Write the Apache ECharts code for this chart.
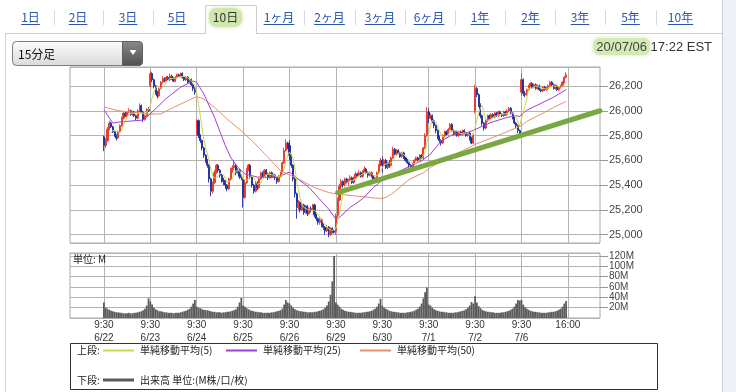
<!DOCTYPE html>
<html><head><meta charset="utf-8">
<script src="https://cdn.jsdelivr.net/npm/echarts@6/dist/echarts.min.js"></script>
<style>html,body{margin:0;padding:0;background:#fff}#c{width:736px;height:392px}</style>
</head><body><div id="c"></div><script>
// ---------------- DATA ----------------
const dates = ['6/22','6/23','6/24','6/25','6/26','6/29','6/30','7/1','7/2','7/6'];
const openLabel = '9:30';
const closeLabel = '16:00';

// 15-minute candles, each [open, close, low, high]
const c0622 = [[25790,25720,25675,25800],[25720,25760,25700,25780],[25760,25850,25750,25870],[25850,25900,25840,25920],[25900,25870,25860,25910],[25870,25830,25820,25880],[25830,25800,25790,25840],[25800,25780,25760,25810],[25780,25830,25770,25840],[25830,25880,25820,25890],[25880,25940,25870,25950],[25940,25980,25930,25990],[25980,25960,25950,25990],[25960,25990,25950,26000],[25990,26000,25980,26020],[26000,25970,25960,26010],[25970,25990,25960,26000],[25990,25960,25950,26000],[25960,25940,25920,25970],[25940,26000,25930,26010],[26000,26040,25990,26060],[26040,25990,25980,26050],[25990,25930,25910,26000],[25930,25960,25920,25970],[25960,26010,25950,26020],[26010,26000,25990,26030]];
const c0623 = [[26200,26300,26190,26320],[26300,26250,26230,26310],[26250,26200,26180,26260],[26200,26150,26130,26210],[26150,26120,26100,26160],[26120,26180,26110,26190],[26180,26230,26170,26240],[26230,26260,26220,26280],[26260,26240,26230,26270],[26240,26270,26230,26280],[26270,26250,26240,26280],[26250,26280,26240,26300],[26280,26260,26250,26290],[26260,26240,26230,26270],[26240,26270,26230,26280],[26270,26290,26260,26300],[26290,26280,26270,26300],[26280,26300,26270,26310],[26300,26270,26260,26310],[26270,26250,26240,26280],[26250,26270,26240,26280],[26270,26230,26220,26280],[26230,26250,26220,26260],[26250,26210,26200,26260],[26210,26180,26160,26220],[26180,26150,26130,26190]];
const c0624 = [[25850,25920,25800,25930],[25920,25800,25780,25930],[25800,25760,25740,25810],[25760,25700,25680,25770],[25700,25640,25620,25710],[25640,25600,25580,25650],[25600,25560,25540,25610],[25560,25450,25420,25570],[25450,25350,25310,25460],[25350,25420,25330,25430],[25420,25500,25410,25520],[25500,25560,25490,25570],[25560,25520,25500,25570],[25520,25480,25460,25530],[25480,25440,25420,25490],[25440,25430,25400,25460],[25430,25400,25370,25440],[25400,25370,25350,25410],[25370,25450,25360,25460],[25450,25520,25440,25540],[25520,25540,25500,25560],[25540,25560,25520,25600],[25560,25500,25480,25570],[25500,25520,25490,25540],[25520,25470,25450,25530],[25470,25460,25440,25490]];
const c0625 = [[25450,25300,25220,25460],[25300,25420,25290,25440],[25420,25520,25410,25540],[25520,25560,25510,25570],[25560,25470,25450,25570],[25470,25400,25380,25480],[25400,25350,25330,25410],[25350,25420,25340,25430],[25420,25380,25360,25430],[25380,25450,25370,25460],[25450,25500,25440,25510],[25500,25470,25460,25510],[25470,25520,25460,25530],[25520,25490,25480,25530],[25490,25460,25440,25500],[25460,25500,25450,25510],[25500,25470,25460,25510],[25470,25480,25460,25490],[25480,25460,25440,25490],[25460,25430,25410,25470],[25430,25470,25420,25480],[25470,25500,25460,25510],[25500,25580,25490,25590],[25580,25680,25570,25700],[25680,25740,25670,25770],[25740,25700,25690,25750]];
const c0626 = [[25720,25640,25600,25760],[25640,25560,25540,25650],[25560,25450,25430,25570],[25450,25330,25300,25460],[25330,25220,25130,25340],[25220,25260,25200,25280],[25260,25200,25180,25270],[25200,25240,25190,25260],[25240,25180,25160,25250],[25180,25230,25170,25240],[25230,25170,25150,25240],[25170,25210,25160,25220],[25210,25200,25180,25230],[25200,25240,25190,25250],[25240,25160,25140,25250],[25160,25130,25110,25170],[25130,25100,25080,25140],[25100,25120,25080,25140],[25120,25080,25060,25130],[25080,25060,25040,25090],[25060,25030,25000,25070],[25030,25060,25020,25080],[25060,25000,24980,25070],[25000,25050,24990,25060],[25050,25030,25010,25060],[25030,25020,25010,25040]];
const c0629 = [[25030,25150,25000,25170],[25150,25280,25140,25300],[25280,25390,25270,25410],[25390,25430,25370,25450],[25430,25400,25380,25440],[25400,25450,25390,25460],[25450,25420,25410,25460],[25420,25440,25400,25450],[25440,25460,25430,25480],[25460,25420,25410,25470],[25420,25460,25410,25470],[25460,25490,25450,25510],[25490,25480,25470,25500],[25480,25500,25470,25520],[25500,25470,25460,25510],[25470,25510,25460,25520],[25510,25530,25500,25550],[25530,25500,25490,25540],[25500,25480,25460,25510],[25480,25500,25470,25510],[25500,25470,25460,25510],[25470,25440,25420,25480],[25440,25460,25430,25470],[25460,25500,25450,25510],[25500,25560,25490,25570],[25560,25600,25550,25620]];
const c0630 = [[25600,25560,25500,25630],[25560,25600,25550,25610],[25600,25540,25530,25610],[25540,25580,25530,25590],[25580,25560,25540,25600],[25560,25620,25550,25630],[25620,25690,25610,25710],[25690,25650,25640,25700],[25650,25680,25640,25690],[25680,25660,25650,25690],[25660,25630,25620,25670],[25630,25660,25620,25670],[25660,25620,25610,25670],[25620,25600,25590,25630],[25600,25580,25570,25610],[25580,25560,25540,25590],[25560,25550,25540,25570],[25550,25570,25540,25580],[25570,25600,25560,25610],[25600,25620,25590,25630],[25620,25600,25590,25630],[25600,25640,25590,25650],[25640,25620,25610,25650],[25620,25700,25610,25710],[25700,25800,25690,25820],[25800,25990,25790,26030]];
const c0701 = [[25990,25940,25900,26020],[25940,25960,25930,25980],[25960,25920,25900,25970],[25920,25880,25860,25930],[25880,25840,25820,25890],[25840,25790,25770,25850],[25790,25760,25740,25800],[25760,25740,25720,25770],[25740,25800,25730,25810],[25800,25830,25790,25840],[25830,25810,25800,25840],[25810,25850,25800,25860],[25850,25890,25840,25900],[25890,25840,25830,25900],[25840,25810,25800,25850],[25810,25830,25800,25840],[25830,25800,25790,25840],[25800,25830,25790,25840],[25830,25810,25800,25840],[25810,25840,25800,25850],[25840,25820,25810,25850],[25820,25800,25790,25830],[25800,25820,25790,25830],[25820,25780,25760,25830],[25780,25740,25730,25790],[25740,25800,25730,25810]];
const c0702 = [[26000,26180,25980,26210],[26180,26130,26110,26190],[26130,26050,26030,26140],[26050,25960,25940,26060],[25960,25900,25880,25970],[25900,25860,25840,25910],[25860,25920,25850,25930],[25920,25960,25910,25970],[25960,25940,25930,25970],[25940,25970,25930,25980],[25970,25950,25940,25980],[25950,25980,25940,25990],[25980,25960,25950,25990],[25960,25990,25950,26000],[25990,25970,25960,26000],[25970,25960,25950,25980],[25960,25990,25950,26000],[25990,25970,25960,26000],[25970,26000,25960,26010],[26000,26020,25990,26030],[26020,25980,25970,26030],[25980,25940,25930,25990],[25940,25900,25890,25950],[25900,25880,25860,25910],[25880,25840,25820,25890],[25840,25820,25800,25850]];
const c0706 = [[26150,26250,26120,26300],[26250,26140,26120,26260],[26140,26130,26110,26160],[26130,26170,26120,26180],[26170,26200,26160,26210],[26200,26220,26190,26230],[26220,26190,26180,26230],[26190,26210,26180,26220],[26210,26180,26170,26220],[26180,26200,26170,26210],[26200,26170,26160,26210],[26170,26160,26150,26180],[26160,26190,26150,26200],[26190,26170,26160,26200],[26170,26180,26160,26190],[26180,26200,26170,26210],[26200,26230,26190,26240],[26230,26210,26200,26240],[26210,26180,26170,26220],[26180,26200,26170,26210],[26200,26170,26160,26210],[26170,26190,26160,26200],[26190,26200,26180,26210],[26200,26230,26190,26240],[26230,26270,26220,26280],[26270,26290,26260,26310]];

// volume (millions), 15-minute bars
const v0622 = [30,20,18,16,14,13,12,11,11,10,10,9,9,9,10,9,9,10,10,11,12,13,15,18,24,38];
const v0623 = [32,26,20,17,15,13,13,12,11,11,10,10,10,9,10,10,10,11,12,13,14,16,18,22,28,35];
const v0624 = [22,20,19,17,16,15,15,14,13,12,12,11,11,11,10,11,11,12,12,13,14,15,17,22,30,39];
const v0625 = [24,22,19,17,15,14,13,12,12,11,11,10,10,10,10,10,11,11,12,13,14,15,18,26,35,30];
const v0626 = [28,24,20,17,15,14,13,13,12,12,11,11,11,11,12,12,13,14,15,17,20,24,32,45,71,120];
const v0629 = [30,26,22,18,16,14,13,12,12,11,11,10,10,10,10,11,11,12,12,13,14,16,18,22,28,37];
const v0630 = [24,20,18,16,14,13,12,12,11,11,10,10,10,10,11,11,12,13,14,16,18,22,28,38,50,59];
const v0701 = [26,24,20,17,15,14,13,12,12,11,11,10,10,10,10,11,11,12,13,14,15,17,20,24,31,28];
const v0702 = [42,30,23,19,16,14,13,12,12,11,11,10,10,10,10,11,11,12,13,14,16,18,22,28,35,34];
const v0706 = [35,26,21,18,16,14,13,12,12,11,11,10,10,10,10,11,11,12,12,13,14,16,18,22,28,33];

// moving averages: [bar index, value]
const ma25Pts = [[0,26010],[5,25900],[9,25910],[18,25920],[22,25925],[26,25975],[35,26100],[43,26190],[50,26240],[52,26230],[56,26135],[62,25946],[68,25720],[71,25625],[75,25545],[79,25490],[86,25465],[94,25460],[99,25475],[104,25505],[109,25448],[115,25380],[120,25300],[126,25206],[130,25125],[132,25140],[138,25220],[145,25290],[151,25380],[157,25450],[164,25500],[171,25550],[178,25595],[183,25650],[189,25757],[196,25811],[204,25825],[209,25855],[217,25906],[226,25946],[231,25960],[233,25955],[237,26005],[245,26060],[252,26110],[259,26170]];
const ma50Pts = [[0,26032],[8,26000],[17,25987],[26,25973],[32,25975],[39,26027],[47,26081],[52,26115],[56,26095],[62,26027],[69,25933],[77,25838],[84,25744],[92,25623],[99,25515],[105,25475],[111,25434],[118,25380],[126,25340],[131,25327],[141,25313],[150,25299],[155,25292],[158,25300],[162,25335],[166,25385],[171,25445],[179,25500],[183,25542],[192,25620],[201,25677],[209,25735],[218,25784],[227,25838],[234,25879],[237,25915],[245,25973],[252,26027],[259,26075]];
// user-drawn trend line: [bar index, value]
const trendPts = [[131,25340],[278,26000]];

const tabLabels = ['1日','2日','3日','5日','10日','1ヶ月','2ヶ月','3ヶ月','6ヶ月','1年','2年','3年','5年','10年'];
const selectedTab = '10日';
const legendTop = ['単純移動平均(5)','単純移動平均(25)','単純移動平均(50)'];
const legendBottom = '出来高 単位:(M株/口/枚)';
const timestampDate = '20/07/06';
const timestampRest = ' 17:22 EST';
const barType = '15分足';

// ---------------- BUILD ----------------
const PER_DAY = 26, PAD_L = 19, PAD_R = 19;
const candles = [].concat(c0622,c0623,c0624,c0625,c0626,c0629,c0630,c0701,c0702,c0706);
const vols = [].concat(v0622,v0623,v0624,v0625,v0626,v0629,v0630,v0701,v0702,v0706);
const nBars = candles.length;
const nCat = PAD_L + nBars + PAD_R;
const cats = [];
const labelMap = {};
for (let k = 0; k < nCat; k++) {
  const i = k - PAD_L;
  if (i >= 0 && i < nBars) {
    const d = Math.floor(i / PER_DAY), j = i % PER_DAY;
    const mins = 9*60+30 + j*15;
    cats.push(dates[d] + ' ' + Math.floor(mins/60) + ':' + String(mins%60).padStart(2,'0'));
    if (j === 0) labelMap[k] = openLabel + '\n' + dates[d];
  } else if (i === nBars) {
    cats.push(dates[dates.length-1] + ' ' + closeLabel);
    labelMap[k] = closeLabel;
  } else cats.push('pad' + k);
}
const isMark = (idx) => labelMap[idx] !== undefined;
const candleData = [];
const volData = [];
for (let k = 0; k < nCat; k++) {
  const i = k - PAD_L;
  if (i >= 0 && i < nBars) { candleData.push(candles[i]); volData.push(vols[i]); }
  else { candleData.push(['-','-','-','-']); volData.push('-'); }
}
const closes = candles.map(c => c[1]);
const ma5 = [];
for (let i = 4; i < nBars; i++) {
  let s = 0; for (let t = i-4; t <= i; t++) s += closes[t];
  ma5.push([PAD_L + i, Math.round(s/5)]);
}
const shift = pts => pts.map(p => [PAD_L + p[0], p[1]]);

const NUMF = '"Liberation Sans", Arial, sans-serif';
const JPF = '"Noto Sans CJK JP", sans-serif';
const gridCol = '#b3b3b3';

// ---------------- GRAPHICS (page chrome) ----------------
const g = [];
const meas = document.createElement('canvas').getContext('2d');
g.push({type:'rect', shape:{x:723,y:0,width:13,height:392}, style:{fill:'#eef1f6'}, z:0});
g.push({type:'line', shape:{x1:722.5,y1:0,x2:722.5,y2:392}, style:{stroke:'#c9d0da',lineWidth:1}});
g.push({type:'line', shape:{x1:5.5,y1:33,x2:5.5,y2:392}, style:{stroke:'#d0d4da',lineWidth:1}});
g.push({type:'line', shape:{x1:5,y1:33.5,x2:205,y2:33.5}, style:{stroke:'#c9ced6',lineWidth:1}});
g.push({type:'line', shape:{x1:256,y1:33.5,x2:722,y2:33.5}, style:{stroke:'#c9ced6',lineWidth:1}});
g.push({type:'polyline', shape:{points:[[205.5,34],[205.5,5.5],[256.5,5.5],[256.5,34]]}, style:{stroke:'#c9ced6',fill:null,lineWidth:1}});
const tabX = [30.5,78,128,177,225.5,279,329.5,380,429,480,530.5,580,630.5,680.5];
tabLabels.forEach((t, i) => {
  const font = '12px ' + JPF;
  meas.font = font;
  const w = meas.measureText(t).width;
  const sel = t === selectedTab;
  if (sel) {
    g.push({type:'rect', shape:{x:tabX[i]-w/2-4,y:8,width:w+8,height:19,r:8}, style:{fill:'#cfe7ad',shadowBlur:4,shadowColor:'#cfe7ad'}});
  }
  g.push({type:'text', x:tabX[i], y:17, style:{text:t, font:font, fill: sel ? '#333' : '#2855b0', align:'center', verticalAlign:'middle'}});
  if (!sel) g.push({type:'line', shape:{x1:tabX[i]-w/2,y1:24.5,x2:tabX[i]+w/2,y2:24.5}, style:{stroke:'#2855b0',lineWidth:1}});
  if (i < tabLabels.length - 1 && !sel && tabLabels[i+1] !== selectedTab) {
    const sx = Math.round((tabX[i]+tabX[i+1])/2) + 0.5;
    g.push({type:'line', shape:{x1:sx,y1:10,x2:sx,y2:25}, style:{stroke:'#d5d8de',lineWidth:1}});
  }
});
// dropdown
g.push({type:'rect', shape:{x:12.5,y:41.5,width:130,height:24,r:4},
  style:{fill:{type:'linear',x:0,y:0,x2:0,y2:1,colorStops:[{offset:0,color:'#fdfdfd'},{offset:1,color:'#d9d9d9'}]}, stroke:'#7d7d7d', lineWidth:1}});
g.push({type:'rect', shape:{x:122.5,y:41.5,width:20,height:24,r:[0,4,4,0]},
  style:{fill:{type:'linear',x:0,y:0,x2:0,y2:1,colorStops:[{offset:0,color:'#8a8a8a'},{offset:1,color:'#505050'}]}, stroke:'#606060', lineWidth:1}});
g.push({type:'polygon', shape:{points:[[129.5,50],[136.5,50],[133,55]]}, style:{fill:'#fff'}});
g.push({type:'text', x:18, y:54, style:{text:barType, font:'12px ' + JPF, fill:'#111', verticalAlign:'middle'}});
// timestamp
const tsFont = '13px ' + NUMF;
meas.font = tsFont;
const wRest = meas.measureText(timestampRest).width;
const wDate = meas.measureText(timestampDate).width;
const tsRight = 712;
g.push({type:'rect', shape:{x:tsRight-wRest-wDate-3,y:38,width:wDate+6,height:17,r:6}, style:{fill:'#d3eab5',shadowBlur:4,shadowColor:'#d3eab5'}});
g.push({type:'text', x:tsRight-wRest, y:47, style:{text:timestampDate, font:tsFont, fill:'#444', align:'right', verticalAlign:'middle'}});
g.push({type:'text', x:tsRight, y:47, style:{text:timestampRest, font:tsFont, fill:'#333', align:'right', verticalAlign:'middle'}});
// volume unit label
g.push({type:'text', x:73, y:259, style:{text:'単位: M', font:'10px ' + JPF, fill:'#222', verticalAlign:'middle'}, z:10});
// legend box
g.push({type:'rect', shape:{x:70.5,y:343.5,width:587,height:46}, style:{fill:'#fff',stroke:'#333',lineWidth:1}});
g.push({type:'text', x:77, y:350, style:{text:'上段:', font:'10px '+JPF, fill:'#222', verticalAlign:'middle'}});
const legCols = ['#c8d850','#a040d8','#e8906a'];
const legX = [103, 226, 360];
legendTop.forEach((t,i) => {
  g.push({type:'line', shape:{x1:legX[i],y1:350.5,x2:legX[i]+31,y2:350.5}, style:{stroke:legCols[i],lineWidth:2}});
  g.push({type:'text', x:legX[i]+37, y:350, style:{text:t, font:'10px '+JPF, fill:'#222', verticalAlign:'middle'}});
});
g.push({type:'text', x:77, y:380, style:{text:'下段:', font:'10px '+JPF, fill:'#222', verticalAlign:'middle'}});
g.push({type:'line', shape:{x1:103,y1:380,x2:134,y2:380}, style:{stroke:'#5a5a5a',lineWidth:3}});
g.push({type:'text', x:140, y:380, style:{text:legendBottom, font:'10px '+JPF, fill:'#222', verticalAlign:'middle'}});

// ---------------- CHART ----------------
const chart = echarts.init(document.getElementById('c'), null, {renderer:'canvas'});
const xCommon = {
  type:'category', data:cats, boundaryGap:false,
  axisLine:{show:false}, axisTick:{show:false},
  splitLine:{show:true, interval:(idx)=>isMark(idx), lineStyle:{color:gridCol,width:1}}
};
chart.setOption({
  animation:false,
  backgroundColor:'#fff',
  graphic:{elements:g},
  grid:[
    {left:70,right:136,top:67,height:176,show:true,borderColor:'#a8a8a8',borderWidth:1,backgroundColor:'#fff',containLabel:false,outerBoundsMode:'none'},
    {left:70,right:136,top:253,height:65,show:true,borderColor:'#a8a8a8',borderWidth:1,backgroundColor:'#fff',containLabel:false,outerBoundsMode:'none'}
  ],
  xAxis:[
    Object.assign({gridIndex:0, axisLabel:{show:false}}, xCommon),
    Object.assign({gridIndex:1, axisLabel:{show:true, interval:(idx)=>isMark(idx), formatter:(v,idx)=>labelMap[idx]||'', margin:1, lineHeight:13, fontSize:10, fontFamily:NUMF, color:'#333'}}, xCommon)
  ],
  yAxis:[
    {type:'value', gridIndex:0, position:'right', min:24933, max:26353, splitNumber:7, minInterval:200, maxInterval:200, scale:true,
     axisLine:{show:false}, axisTick:{show:true,length:8,lineStyle:{color:'#999'}},
     axisLabel:{margin:9, fontSize:11, fontFamily:NUMF, color:'#444', showMinLabel:false, showMaxLabel:false, formatter:v=>Math.round(v).toLocaleString('en-US')},
     splitLine:{show:true, lineStyle:{color:gridCol,width:1}}},
    {type:'value', gridIndex:1, position:'right', min:0, max:126, splitNumber:6, minInterval:20, maxInterval:20,
     axisLine:{show:false}, axisTick:{show:true,length:8,lineStyle:{color:'#999'}},
     axisLabel:{margin:9, fontSize:10, fontFamily:NUMF, color:'#444', lineHeight:10, showMinLabel:false, showMaxLabel:false, formatter:v=>Math.round(v)+'M'},
     splitLine:{show:true, lineStyle:{color:gridCol,width:1}}}
  ],
  series:[
    {type:'candlestick', xAxisIndex:0, yAxisIndex:0, data:candleData, barWidth:1.6, silent:true, z:2,
     itemStyle:{color:'#e8352b', color0:'#1c2d9a', borderColor:'#e8352b', borderColor0:'#1c2d9a', borderWidth:0.9}},
    {type:'line', xAxisIndex:0, yAxisIndex:0, data:shift(ma50Pts), symbol:'none', silent:true, z:3, lineStyle:{color:'#e8906a',width:1}},
    {type:'line', xAxisIndex:0, yAxisIndex:0, data:shift(ma25Pts), symbol:'none', silent:true, z:3, lineStyle:{color:'#a040d8',width:1}},
    {type:'line', xAxisIndex:0, yAxisIndex:0, data:ma5, symbol:'none', silent:true, z:3, lineStyle:{color:'#c8d850',width:1}},
    {type:'line', xAxisIndex:0, yAxisIndex:0, data:shift(trendPts), symbol:'none', silent:true, z:4, clip:false, lineStyle:{color:'#79a842',width:5,cap:'round'}},
    {type:'bar', xAxisIndex:1, yAxisIndex:1, data:volData, barCategoryGap:'0%', barWidth:'100%', silent:true, itemStyle:{color:'#5c5c5c'}}
  ]
});
</script></body></html>
